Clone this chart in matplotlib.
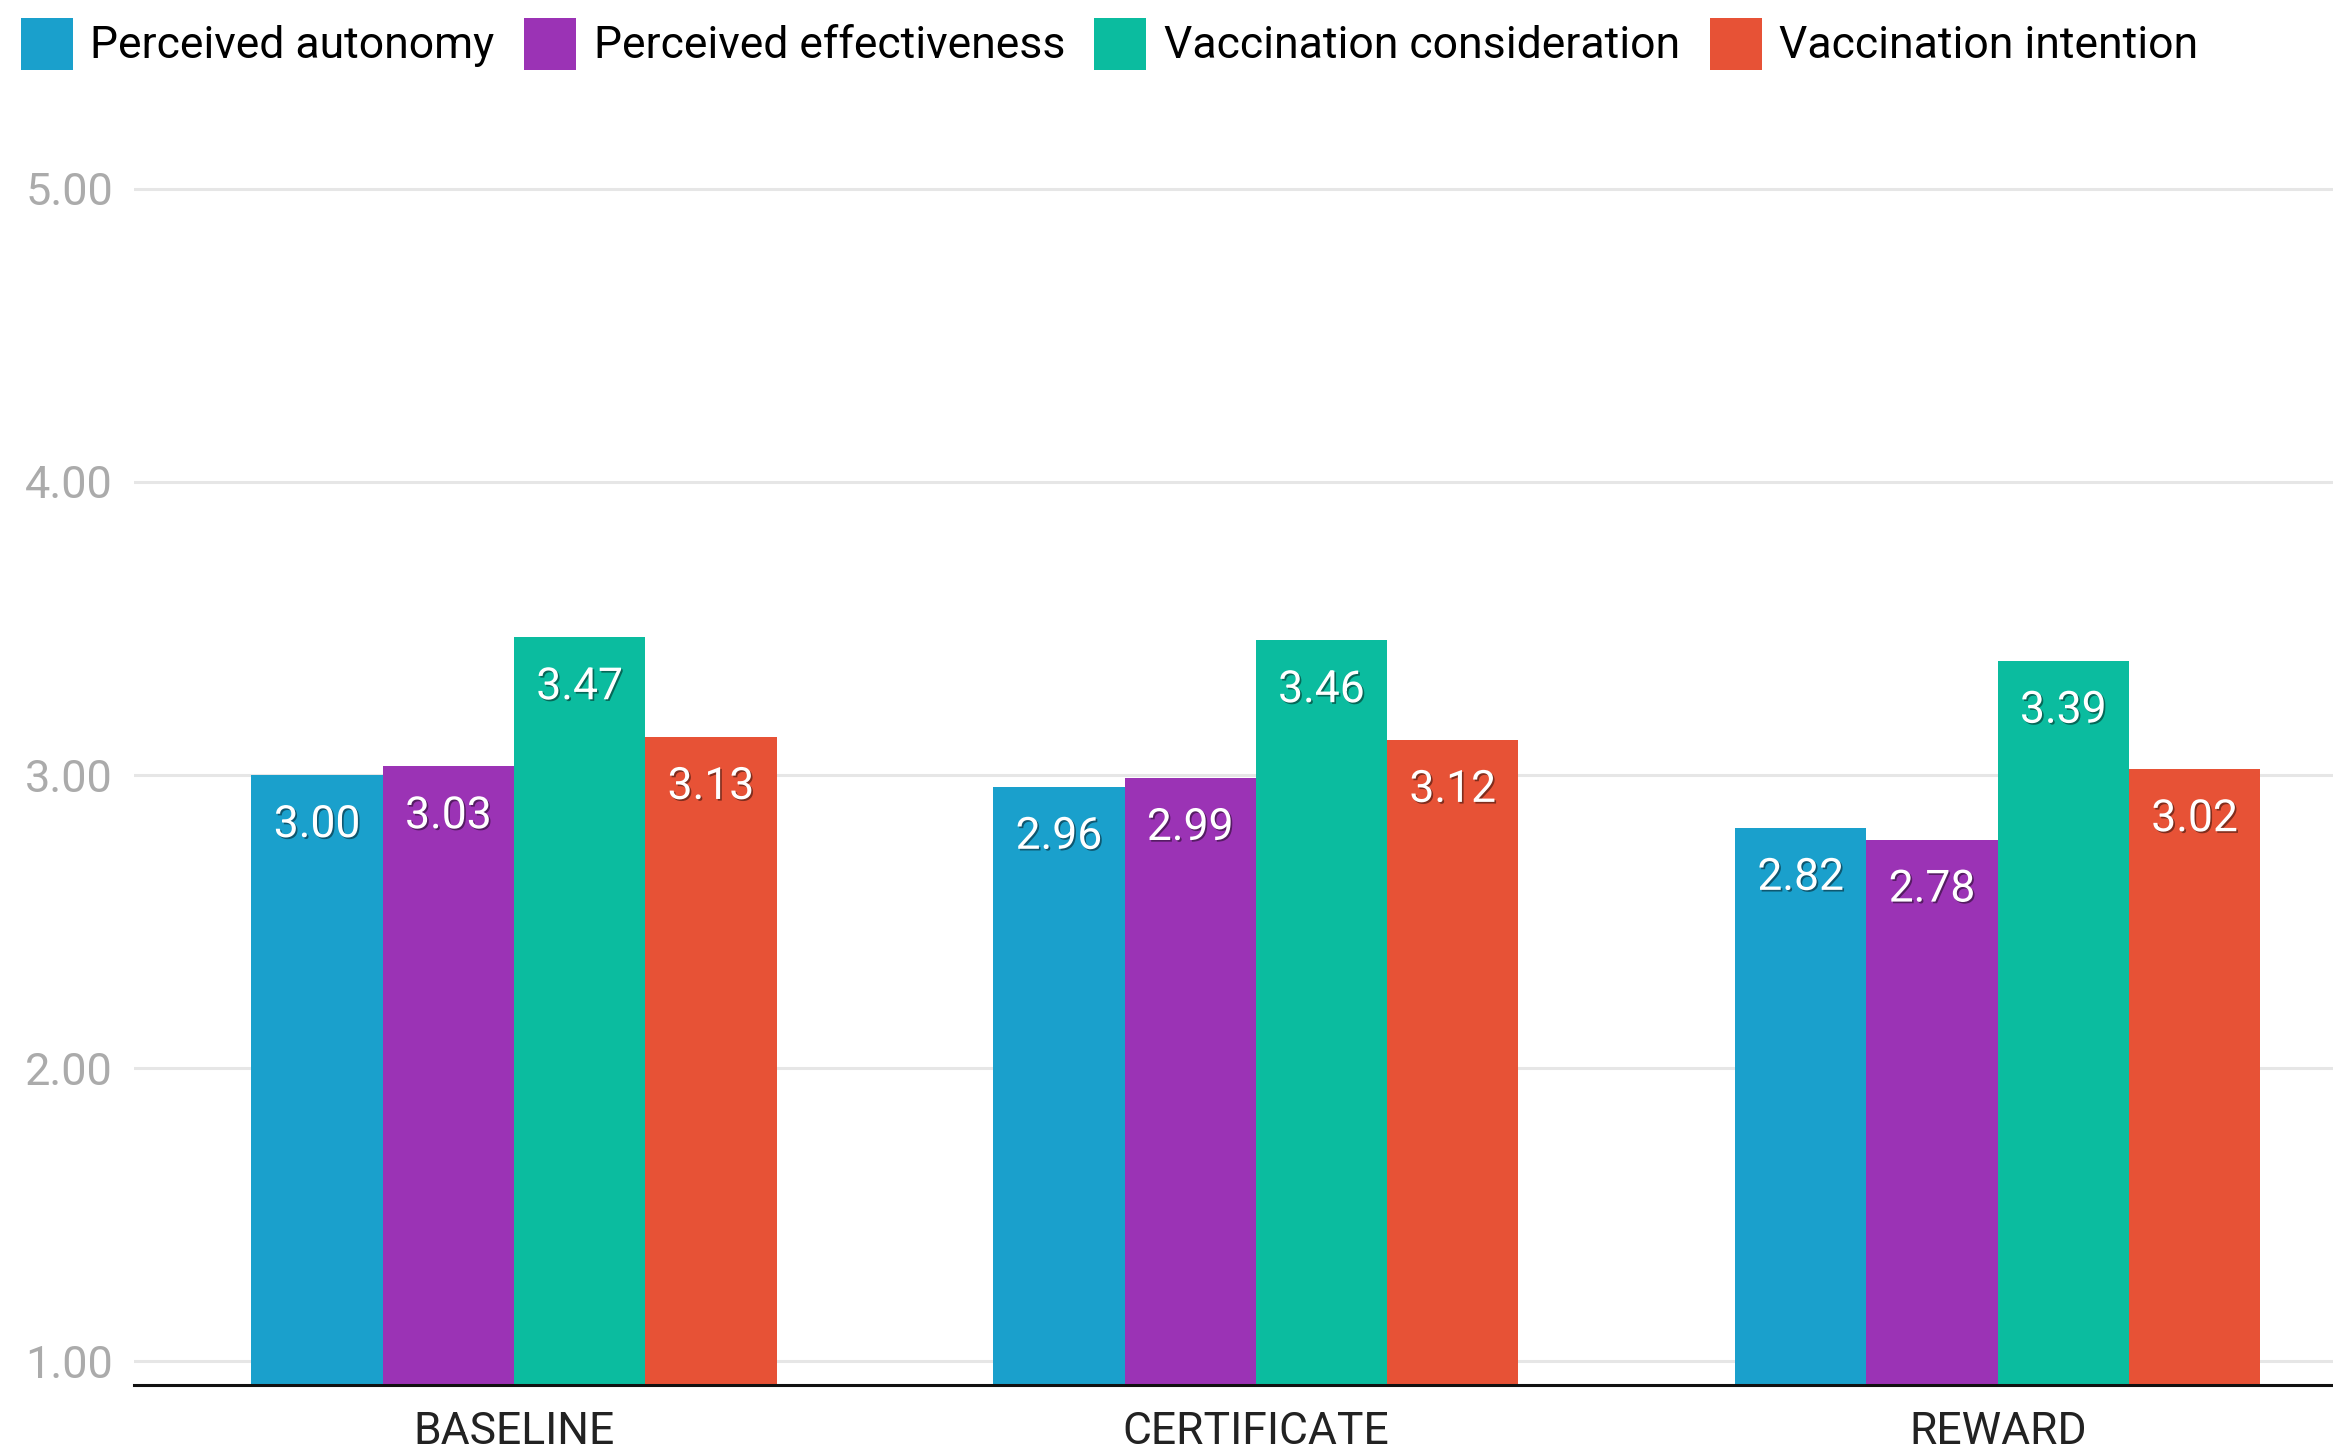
import matplotlib
matplotlib.use('Agg')
import matplotlib.pyplot as plt
import matplotlib.patheffects as pe
import numpy as np

plt.rcParams['font.family'] = ['Roboto', 'DejaVu Sans']

# data
groups = ['BASELINE', 'CERTIFICATE', 'REWARD']
series_names = ['Perceived autonomy', 'Perceived effectiveness',
                'Vaccination consideration', 'Vaccination intention']
perceived_autonomy = [3.00, 2.96, 2.82]
perceived_effectiveness = [3.03, 2.99, 2.78]
vaccination_consideration = [3.47, 3.46, 3.39]
vaccination_intention = [3.13, 3.12, 3.02]
yticks = [1.00, 2.00, 3.00, 4.00, 5.00]

colors = ['#1aa0cc', '#9b33b5', '#0bbc9f', '#e75236']
all_series = [perceived_autonomy, perceived_effectiveness,
              vaccination_consideration, vaccination_intention]

fig = plt.figure(figsize=(23.33, 14.56), dpi=100)
ax = fig.add_axes([0.0574, 0.0488, 0.9426, 0.8317])

y0 = 0.92
x = np.arange(len(groups))
w = 0.177
for i, (vals, c, name) in enumerate(zip(all_series, colors, series_names)):
    pos = x + (i - 1.5) * w
    heights = [v - y0 for v in vals]
    ax.bar(pos, heights, w, bottom=y0, color=c, label=name, zorder=3, linewidth=0)
    for px, v in zip(pos, vals):
        t = ax.annotate(f'{v:.2f}', (px, v), xytext=(0, -36), textcoords='offset points',
                        ha='center', va='center', color='white', fontsize=32, zorder=5)
        t.set_path_effects([pe.SimplePatchShadow(offset=(1.2, -1.2), shadow_rgbFace='black', alpha=0.45),
                            pe.Normal()])

ax.set_xlim(-0.5125, 2.452)
ax.set_ylim(y0, 5.05)
ax.set_yticks(yticks)
ax.set_yticklabels([f'{t:.2f}' for t in yticks])
ax.set_xticks(x)
ax.set_xticklabels(groups)
ax.tick_params(axis='y', length=0, pad=15, labelsize=32.5, labelcolor='#ababab')
ax.tick_params(axis='x', length=0, pad=19, labelsize=32, labelcolor='#222222')
ax.grid(axis='y', color='#e6e6e6', linewidth=2.2, zorder=0)
for s in ['top', 'right', 'left']:
    ax.spines[s].set_visible(False)
ax.spines['bottom'].set_linewidth(2.2)
ax.spines['bottom'].set_color('#111111')
ax.spines['bottom'].set_zorder(4)

fig.legend(loc='upper left', bbox_to_anchor=(0.005, 0.994), ncol=4, frameon=False,
           fontsize=32, handlelength=1.17, handleheight=1.42, handletextpad=0.4,
           columnspacing=0.66, borderpad=0.2, borderaxespad=0)

fig.savefig('out.png', dpi=100, facecolor='white')
